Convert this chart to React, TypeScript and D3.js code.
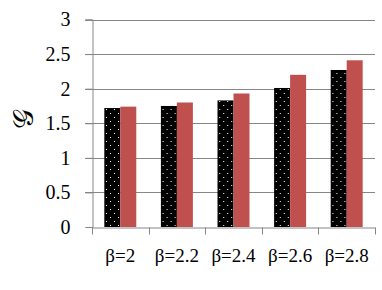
import React, { useEffect, useRef } from "react";
import * as d3 from "d3";

const categories = ["β=2", "β=2.2", "β=2.4", "β=2.6", "β=2.8"];
const seriesNames = ["dotted", "red"];
const dottedValues = [1.72, 1.75, 1.83, 2.01, 2.27];
const redValues = [1.74, 1.8, 1.93, 2.2, 2.41];
const yTicks = [0, 0.5, 1, 1.5, 2, 2.5, 3];

const W = 382;
const H = 290;
const margin = { left: 92, right: 7, top: 19.5, bottom: 63 };
const serif = "Liberation Serif, Times New Roman, serif";

const App = () => {
  const ref = useRef<SVGSVGElement | null>(null);

  useEffect(() => {
    const svg = d3.select(ref.current);
    svg.selectAll("*").remove();

    const x0 = d3
      .scaleBand()
      .domain(categories)
      .range([margin.left, W - margin.right])
      .paddingInner(0)
      .paddingOuter(0);
    const x1 = d3
      .scaleBand()
      .domain(seriesNames)
      .range([0, x0.bandwidth()])
      .paddingInner(0)
      .paddingOuter(0.77);
    const y = d3
      .scaleLinear()
      .domain([0, 3])
      .range([H - margin.bottom, margin.top]);

    const defs = svg.append("defs");
    const pat = defs
      .append("pattern")
      .attr("id", "dots")
      .attr("width", 8)
      .attr("height", 8)
      .attr("patternUnits", "userSpaceOnUse");
    pat.append("rect").attr("width", 8).attr("height", 8).attr("fill", "#000");
    pat.append("rect").attr("x", 2).attr("y", 1).attr("width", 1).attr("height", 1).attr("fill", "#fff");
    pat.append("rect").attr("x", 6).attr("y", 5).attr("width", 1).attr("height", 1).attr("fill", "#fff");

    // gridlines
    svg
      .append("g")
      .selectAll("line")
      .data(yTicks.filter(d => d > 0))
      .enter()
      .append("line")
      .attr("x1", margin.left - 7)
      .attr("x2", W - margin.right)
      .attr("y1", d => Math.round(y(d)) + 0.5)
      .attr("y2", d => Math.round(y(d)) + 0.5)
      .attr("stroke", "#868686")
      .attr("stroke-width", 1);

    // bars
    const groups = svg
      .append("g")
      .selectAll("g")
      .data(categories)
      .enter()
      .append("g")
      .attr("transform", d => `translate(${x0(d)},0)`);

    groups
      .append("rect")
      .attr("x", x1("dotted")!)
      .attr("width", x1.bandwidth())
      .attr("y", (d, i) => y(dottedValues[i]))
      .attr("height", (d, i) => y(0) - y(dottedValues[i]))
      .attr("fill", "url(#dots)");

    groups
      .append("rect")
      .attr("x", x1("red")!)
      .attr("width", x1.bandwidth())
      .attr("y", (d, i) => y(redValues[i]))
      .attr("height", (d, i) => y(0) - y(redValues[i]))
      .attr("fill", "#C0504D");

    // y axis
    const yAxis = svg
      .append("g")
      .attr("transform", `translate(${margin.left + 0.5},0)`)
      .call(
        d3
          .axisLeft(y)
          .tickValues(yTicks)
          .tickSize(7)
          .tickPadding(15)
          .tickFormat(d3.format("~g") as any)
      )
      .attr("font-family", serif)
      .attr("font-size", 20);
    yAxis.select(".domain").attr("stroke", "#868686");
    yAxis.selectAll(".tick line").attr("stroke", "#868686");
    yAxis.selectAll(".tick text").attr("fill", "#000");

    // x axis
    const xAxis = svg
      .append("g")
      .attr("transform", `translate(0,${Math.round(y(0)) + 0.5})`)
      .call(d3.axisBottom(x0).tickSize(0).tickPadding(21))
      .attr("font-family", serif)
      .attr("font-size", 19);
    xAxis.select(".domain").attr("stroke", "#868686");
    xAxis.selectAll(".tick text").attr("fill", "#000");

    const bounds = [...categories.map(c => x0(c)!), W - margin.right];
    xAxis
      .append("g")
      .selectAll("line")
      .data(bounds)
      .enter()
      .append("line")
      .attr("x1", d => Math.round(d) + 0.5)
      .attr("x2", d => Math.round(d) + 0.5)
      .attr("y1", 0)
      .attr("y2", 7)
      .attr("stroke", "#868686");

    // axis title
    svg
      .append("text")
      .attr("transform", `translate(33,119) rotate(-90)`)
      .attr("text-anchor", "middle")
      .attr("font-family", "DejaVu Serif")
      .attr("font-size", 28)
      .attr("fill", "#000")
      .text("𝒢");
  }, []);

  return (
    <svg
      ref={ref}
      width={W}
      height={H}
      style={{ position: "absolute", left: 0, top: 0, background: "#fff" }}
    />
  );
};

export default App;
